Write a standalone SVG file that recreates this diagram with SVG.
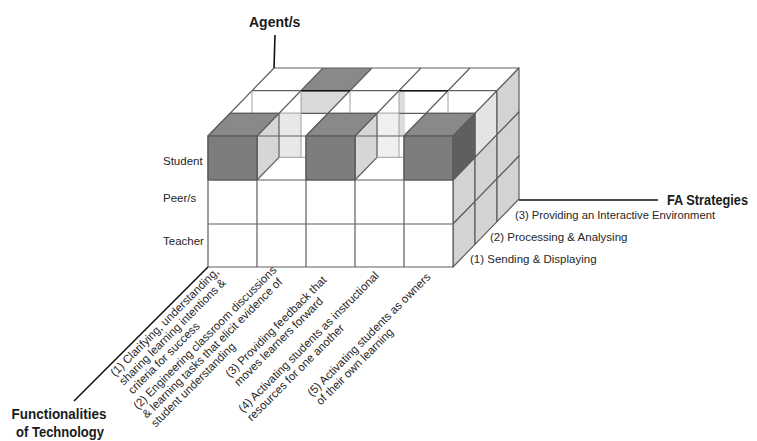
<svg xmlns="http://www.w3.org/2000/svg" width="757" height="441" viewBox="0 0 757 441">
<style>
 .g{stroke:#5e5e5e;stroke-width:1.2;stroke-linejoin:round}
 .gl{stroke:#5e5e5e;stroke-width:1.2;fill:none}
 .fl{stroke:#a0a0a0;stroke-width:1;fill:none}
 .w{fill:#fff}
 .side{fill:#d3d3d3}
 .dkF{fill:#7d7d7d}
 .dkT{fill:#898989}
 .dkR{fill:#5f5f5f}
 .wall{fill:#d6d6d6}
 .t{font-family:"Liberation Sans",Arial,sans-serif;font-size:11.5px;fill:#262626}
 .h{font-family:"Liberation Sans",Arial,sans-serif;font-weight:bold;font-size:14px;fill:#1a1a1a}
 .ax{stroke:#111;stroke-width:1.6;fill:none}
</style>
<rect width="757" height="441" fill="#fff"/>

<g id="cube">
 <!-- top face -->
 <polygon class="w" points="208,136 453,136 519,68 274,68"/>
 <polygon class="dkT" points="301,90.7 350,90.7 372,68 323,68"/>
 <polygon fill="#d9d9d9" points="301,90.7 350,90.7 328,113.3 301,113.3"/>
 <polygon fill="#dcdcdc" points="399,90.7 405,90.7 405,157.3 399,157.3"/>
 <path class="gl" d="M208,136 L274,68 M257,136 L323,68 M306,136 L372,68 M355,136 L421,68 M404,136 L470,68 M453,136 L519,68 M230,113.3 H475 M252,90.7 H497 M274,68 H519"/>
 <path class="fl" d="M252,90.7 V113.3 M350,90.7 V113.3 M448,90.7 V113.3"/>
 <path d="M301,90.7 H350 M399,90.7 H448" stroke="#111" stroke-width="1.6" fill="none"/>

 <!-- right face -->
 <polygon class="dkR g" points="453,136 475,113.3 475,157.3 453,180"/>
 <polygon class="side g" points="453,180 475,157.3 475,201.3 453,224"/>
 <polygon class="side g" points="453,224 475,201.3 475,244.3 453,267"/>
 <polygon fill="#e4e4e4" class="g" points="475,113.3 497,90.7 497,134.7 475,157.3"/>
 <polygon class="side g" points="475,157.3 497,134.7 497,178.7 475,201.3"/>
 <polygon class="side g" points="475,201.3 497,178.7 497,221.7 475,244.3"/>
 <polygon class="side g" points="497,90.7 519,68 519,112 497,134.7"/>
 <polygon class="side g" points="497,134.7 519,112 519,156 497,178.7"/>
 <polygon class="side g" points="497,178.7 519,156 519,199 497,221.7"/>

 <!-- front face -->
 <rect class="w" x="208" y="136" width="245" height="131"/>

 <!-- hollow column 2 -->
 <rect x="279" y="113.3" width="22" height="44" fill="#e8e8e8"/>
 <polygon class="wall g" points="257,136 279,113.3 279,157.3 257,180"/>
 <path class="fl" d="M279,157.3 H306"/>
 <path class="fl" d="M301,90.7 V157.3"/>

 <!-- hollow column 4 -->
 <rect x="377" y="113.3" width="22" height="44" fill="#f0f0f0"/>
 <polygon class="wall g" points="355,136 377,113.3 377,157.3 355,180"/>
 <path class="fl" d="M377,157.3 H404 M399,90.7 V157.3"/>

 <!-- dark cubes -->
 <polygon class="dkT g" points="208,136 257,136 279,113.3 230,113.3"/>
 <rect class="dkF g" x="208" y="136" width="49" height="44"/>
 <polygon class="dkT g" points="306,136 355,136 377,113.3 328,113.3"/>
 <rect class="dkF g" x="306" y="136" width="49" height="44"/>
 <polygon class="dkT g" points="404,136 453,136 475,113.3 426,113.3"/>
 <rect class="dkF g" x="404" y="136" width="49" height="44"/>
 <polygon class="dkR g" points="453,136 475,113.3 475,157.3 453,180"/>

 <!-- front grid -->
 <path class="gl" d="M208,136 H453 V267 H208 Z M208,180 H453 M208,224 H453 M257,136 V267 M306,136 V267 M355,136 V267 M404,136 V267"/>
</g>

<g id="connectors" class="ax">
 <line x1="275" y1="35" x2="274" y2="68"/>
 <line x1="519" y1="200" x2="658" y2="200"/>
 <line x1="208" y1="267" x2="74" y2="401"/>
</g>

<g id="label-agent"><text class="h" x="249" y="27">Agent/s</text></g>
<g id="label-fa"><text class="h" x="667" y="205" textLength="81" lengthAdjust="spacingAndGlyphs">FA Strategies</text></g>
<g id="label-func">
 <text class="h" x="59" y="419" text-anchor="middle" textLength="95" lengthAdjust="spacingAndGlyphs">Functionalities</text>
 <text class="h" x="60" y="437" text-anchor="middle" textLength="88" lengthAdjust="spacingAndGlyphs">of Technology</text>
</g>

<g id="strategies">
 <text class="t" x="515" y="219" textLength="200" lengthAdjust="spacingAndGlyphs">(3) Providing an Interactive Environment</text>
 <text class="t" x="490" y="241">(2) Processing &amp; Analysing</text>
 <text class="t" x="470" y="263">(1) Sending &amp; Displaying</text>
</g>

<g id="agents">
 <text class="t" x="163" y="165">Student</text>
 <text class="t" x="163" y="202">Peer/s</text>
 <text class="t" x="163" y="245">Teacher</text>
</g>

<g id="functionalities">
 <g transform="translate(115,377) rotate(-45)">
  <text class="t" x="0" y="0">(1) Clarifying, understanding,</text>
  <text class="t" x="0" y="12.5">sharing learning intentions &amp;</text>
  <text class="t" x="0" y="25">criteria for success</text>
 </g>
 <g transform="translate(138,410) rotate(-45)">
  <text class="t" x="0" y="0">(2) Engineering classroom discussions</text>
  <text class="t" x="0" y="12.5">&amp; learning tasks that elicit evidence of</text>
  <text class="t" x="0" y="25">student understanding</text>
 </g>
 <g transform="translate(230,378) rotate(-45)">
  <text class="t" x="0" y="0">(3) Providing feedback that</text>
  <text class="t" x="0" y="12.5">moves learners forward</text>
 </g>
 <g transform="translate(243,413) rotate(-45)">
  <text class="t" x="0" y="0">(4) Activating students as instructional</text>
  <text class="t" x="0" y="12.5">resources for one another</text>
 </g>
 <g transform="translate(312,397) rotate(-45)">
  <text class="t" x="0" y="0">(5) Activating students as owners</text>
  <text class="t" x="0" y="12.5">of their own learning</text>
 </g>
</g>
</svg>
